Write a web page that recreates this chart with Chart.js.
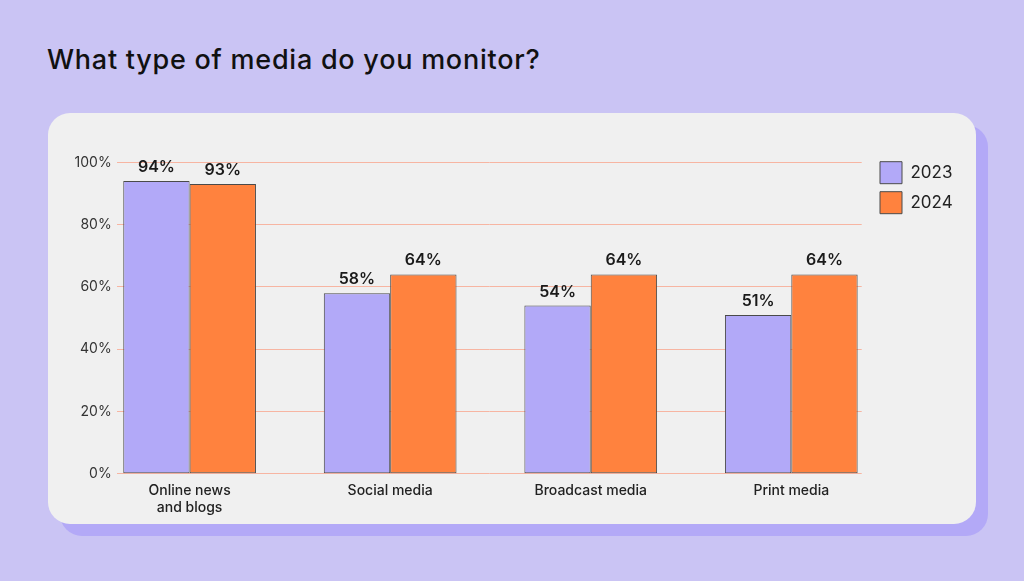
<!DOCTYPE html>
<html>
<head>
<meta charset="utf-8">
<script src="https://cdn.jsdelivr.net/npm/chart.js@4.4.1/dist/chart.umd.min.js"></script>
<style>
  html, body { margin: 0; padding: 0; }
  body { width: 1024px; height: 581px; background: #CAC4F4; position: relative; overflow: hidden; font-family: Inter, "Noto Sans", sans-serif; }
  #title { position: absolute; left: 47px; top: 47px; font-size: 27px; line-height: 26px; font-weight: 500; letter-spacing: 0.75px; color: #111; white-space: nowrap; }
  #shadow { position: absolute; left: 60px; top: 125px; width: 928px; height: 411px; border-radius: 22px; background: #B3A9F7; }
  #card { position: absolute; left: 48px; top: 113px; width: 928px; height: 411px; border-radius: 22px; background: #F0F0F0; }
  #wrap { position: absolute; left: 48px; top: 113px; width: 928px; height: 411px; }
</style>
</head>
<body>
<div id="title">What type of media do you monitor?</div>
<div id="shadow"></div>
<div id="card"></div>
<div id="wrap"><canvas id="c" width="928" height="411"></canvas></div>
<script>
const categories = ["Online news\nand blogs", "Social media", "Broadcast media", "Print media"];
const seriesNames = ["2023", "2024"];
const values2023 = [94, 58, 54, 51];
const values2024 = [93, 64, 64, 64];
const yTicks = [0, 20, 40, 60, 80, 100];

const dataLabels = {
  id: 'dataLabels',
  afterDatasetsDraw(chart) {
    const ctx = chart.ctx;
    ctx.save();
    ctx.font = '600 16px Inter, "Noto Sans", sans-serif';
    ctx.fillStyle = '#1a1a1a';
    ctx.textAlign = 'center';
    ctx.textBaseline = 'alphabetic';
    chart.data.datasets.forEach((ds, di) => {
      const meta = chart.getDatasetMeta(di);
      meta.data.forEach((bar, i) => {
        ctx.fillText(ds.data[i].y + '%', bar.x, bar.y - 9);
      });
    });
    ctx.restore();
  }
};

const legendPlace = {
  id: 'legendPlace',
  afterLayout(chart) {
    const l = chart.legend;
    if (!l) return;
    l.left = 824; l.right = l.left + l.width;
    l.top = 40.7; l.bottom = l.top + l.height;
  }
};

new Chart(document.getElementById('c'), {
  type: 'bar',
  data: {
    datasets: [
      { label: seriesNames[0], data: values2023.map((v, i) => ({ x: i, y: v })), backgroundColor: '#B2A9F8', borderColor: '#4a4a4a', borderWidth: 1, borderSkipped: false },
      { label: seriesNames[1], data: values2024.map((v, i) => ({ x: i, y: v })), backgroundColor: '#FF823E', borderColor: '#4a4a4a', borderWidth: 1, borderSkipped: false }
    ]
  },
  options: {
    responsive: false,
    animation: false,
    devicePixelRatio: 1,
    categoryPercentage: 0.6617,
    barPercentage: 1,
    layout: { padding: { left: 0, top: 49.3, right: 34.3, bottom: 0 } },
    plugins: {
      title: { display: false },
      tooltip: { enabled: false },
      legend: {
        position: 'right',
        align: 'start',
        maxWidth: 80,
        labels: {
          boxWidth: 22, boxHeight: 22, padding: 8,
          color: '#222',
          font: { family: 'Inter, "Noto Sans", sans-serif', size: 17, weight: '400' }
        }
      }
    },
    scales: {
      x: {
        type: 'linear',
        offset: false,
        min: -0.3635,
        max: 3.351,
        grid: { display: false, drawTicks: false, offset: false },
        border: { display: false },
        afterBuildTicks(scale) { scale.ticks = categories.map((c, i) => ({ value: i })); },
        afterFit(scale) { scale.height = 50.2; },
        ticks: {
          autoSkip: false,
          maxRotation: 0,
          padding: 8,
          color: '#222',
          font: { family: 'Inter, "Noto Sans", sans-serif', size: 14, weight: '500', lineHeight: 1.25 },
          callback: (v) => { const c = categories[Math.round(v)]; return c ? c.split('\n') : ''; }
        }
      },
      y: {
        min: 0,
        max: 100,
        afterBuildTicks(scale) { scale.ticks = yTicks.map(v => ({ value: v })); },
        afterFit(scale) { scale.width = 68.7; },
        grid: { color: '#F7B5A2', lineWidth: 1, drawTicks: false },
        border: { display: false },
        ticks: {
          padding: 5,
          color: '#333',
          font: { family: 'Inter, "Noto Sans", sans-serif', size: 14, weight: '400' },
          callback: (v) => v + '%'
        }
      }
    }
  },
  plugins: [dataLabels, legendPlace]
});
</script>
</body>
</html>
